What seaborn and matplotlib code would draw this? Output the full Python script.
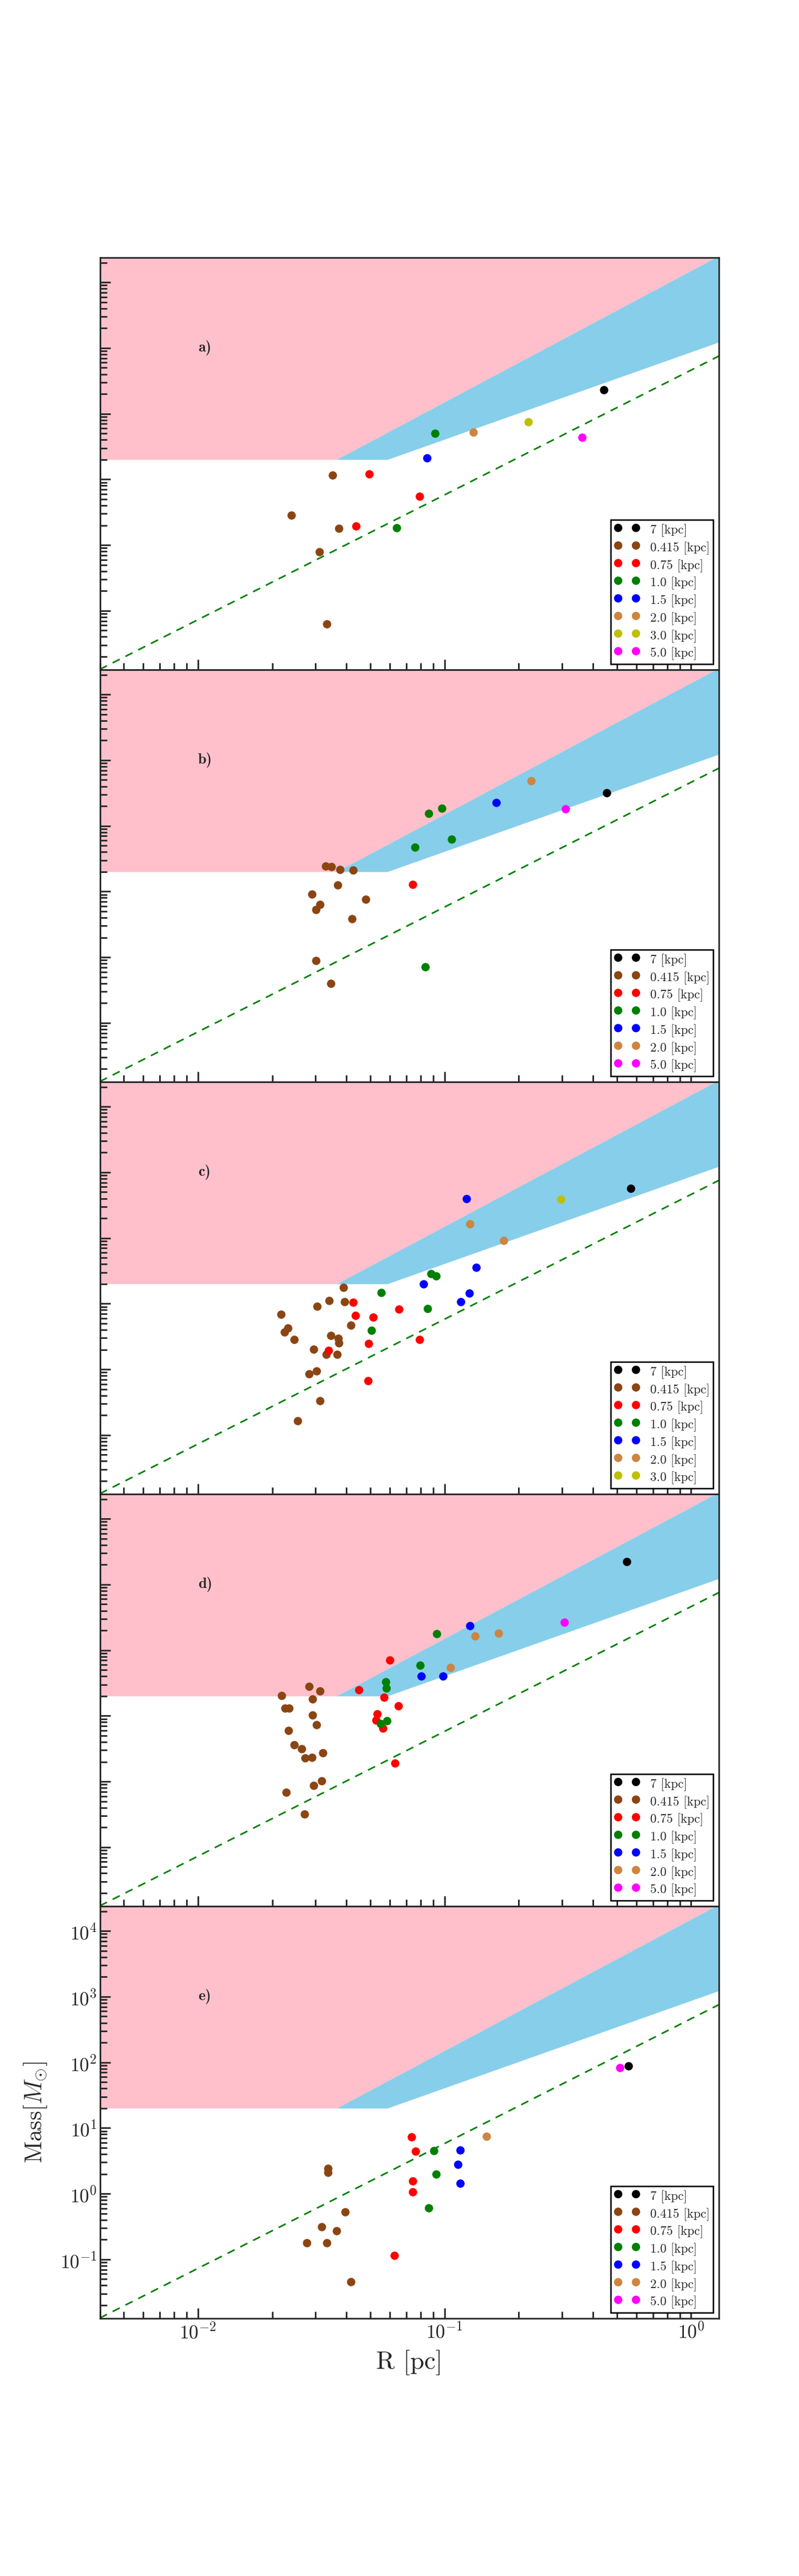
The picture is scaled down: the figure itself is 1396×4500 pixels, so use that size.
import matplotlib
matplotlib.use("Agg")
import matplotlib.pyplot as plt
from matplotlib.ticker import LogLocator, NullFormatter
import numpy as np
import seaborn as sns

# distance groups (legend order) and their colours
groups = ["7", "0.415", "0.75", "1.0", "1.5", "2.0", "3.0", "5.0"]
group_colors = ["black", "#8B4513", "red", "green", "blue", "#CD853F", "#BFBF00", "magenta"]

# panel a
a_kpc = ["7", "0.415", "0.415", "0.415", "0.415", "0.415", "0.75", "0.75", "0.75",
         "1.0", "1.0", "1.5", "2.0", "3.0", "5.0"]
a_R = [0.444, 0.0351, 0.0239, 0.0372, 0.031, 0.0334, 0.0496, 0.079, 0.0438,
       0.0914, 0.064, 0.0848, 0.131, 0.219, 0.361]
a_M = [231, 11.7, 2.83, 1.78, 0.794, 0.0624, 12.0, 5.56, 1.93,
       50.5, 1.82, 21.0, 52.5, 75.7, 43.6]

# panel b
b_kpc = ["7"] + ["0.415"] * 12 + ["0.75"] + ["1.0"] * 5 + ["1.5", "2.0", "5.0"]
b_R = [0.455,
       0.033, 0.0348, 0.0377, 0.0426, 0.0368, 0.029, 0.048, 0.0312, 0.0301, 0.0422, 0.0301, 0.0345,
       0.0743,
       0.0977, 0.0865, 0.107, 0.076, 0.0835,
       0.162, 0.225, 0.310]
b_M = [318,
       24.5, 24.0, 21.6, 21.2, 12.6, 9.08, 7.56, 6.3, 5.25, 3.85, 0.883, 0.401,
       12.9,
       184, 153, 63, 47.6, 0.707,
       225, 481, 180]

# panel c
c_kpc = ["7"] + ["0.415"] * 19 + ["0.75"] * 8 + ["1.0"] * 5 + ["1.5"] * 5 + ["2.0"] * 2 + ["3.0"]
c_R = [0.569,
       0.0388, 0.0341, 0.0394, 0.0305, 0.0217, 0.0417, 0.0232, 0.0224, 0.0345, 0.0371,
       0.0246, 0.0372, 0.0295, 0.0332, 0.0366, 0.0303, 0.0282, 0.0313, 0.0254,
       0.0426, 0.0655, 0.0435, 0.0515, 0.0793, 0.0493, 0.0339, 0.049,
       0.0882, 0.0924, 0.0553, 0.0855, 0.0506,
       0.1226, 0.1346, 0.0822, 0.126, 0.1166,
       0.1265, 0.174,
       0.296]
c_M = [572,
       17.8, 11.1, 10.7, 9.08, 6.93, 4.67, 4.24, 3.67, 3.27, 2.94,
       2.83, 2.5, 2.04, 1.68, 1.70, 0.944, 0.857, 0.330, 0.165,
       10.5, 8.17, 6.61, 6.24, 2.83, 2.45, 1.96, 0.667,
       28.8, 26.2, 14.7, 8.41, 3.89,
       393, 36, 20, 14.4, 10.6,
       163, 90.8,
       389]

# panel d
d_kpc = ["7"] + ["0.415"] * 18 + ["0.75"] * 8 + ["1.0"] * 6 + ["1.5"] * 3 + ["2.0"] * 3 + ["5.0"]
d_R = [0.548,
       0.0282, 0.0313, 0.0218, 0.0292, 0.0225, 0.0234, 0.0292, 0.0303, 0.0233, 0.0246,
       0.0264, 0.0321, 0.0272, 0.029, 0.0317, 0.0295, 0.0228, 0.027,
       0.0601, 0.0449, 0.057, 0.065, 0.0532, 0.0528, 0.0562, 0.063,
       0.0929, 0.0796, 0.0577, 0.0582, 0.0585, 0.0551,
       0.127, 0.0806, 0.0984,
       0.166, 0.133, 0.1056,
       0.306]
d_M = [2225,
       28, 24, 20.2, 18, 13.2, 13.2, 10.3, 7.28, 5.94, 3.6,
       3.12, 2.72, 2.29, 2.31, 1.03, 0.873, 0.687, 0.318,
       70, 24.7, 19.1, 14.2, 10.8, 8.65, 6.48, 1.91,
       178, 58.9, 33, 26.5, 8.49, 7.56,
       236, 40.4, 40.4,
       182, 165, 54.5,
       265]

# panel e
e_kpc = ["7"] + ["0.415"] * 8 + ["0.75"] * 5 + ["1.0"] * 3 + ["1.5"] * 3 + ["2.0", "5.0"]
e_R = [0.557,
       0.0336, 0.0336, 0.0396, 0.0317, 0.0365, 0.0276, 0.0334, 0.0417,
       0.0733, 0.0762, 0.0743, 0.0743, 0.0625,
       0.0903, 0.0924, 0.0865,
       0.116, 0.1134, 0.116,
       0.148, 0.515]
e_M = [88.5,
       2.43, 2.09, 0.532, 0.31, 0.269, 0.179, 0.179, 0.0457,
       7.34, 4.4, 1.56, 1.06, 0.115,
       4.48, 1.98, 0.609,
       4.64, 2.78, 1.43,
       7.48, 82.4]

panels = [("a)", a_R, a_M, a_kpc), ("b)", b_R, b_M, b_kpc), ("c)", c_R, c_M, c_kpc),
          ("d)", d_R, d_M, d_kpc), ("e)", e_R, e_M, e_kpc)]

# reference relations
m_floor = 20.0            # minimum mass [Msun]
sigma_crit = np.pi * 4790  # 1 g cm^-2 column  -> M = pi R^2 Sigma
kp_norm, kp_slope = 870.0, 1.33      # Kauffmann & Pillai
larson_norm, larson_slope = 460.0, 1.9

xlim = (0.004, 1.3)
ylim = (0.0126, 2.38e4)

sns.set_style("ticks")
plt.rcParams["font.family"] = ["cmr10", "DejaVu Serif"]
plt.rcParams["mathtext.fontset"] = "cm"
plt.rcParams["axes.formatter.use_mathtext"] = True
plt.rcParams["axes.unicode_minus"] = False
plt.rcParams["axes.axisbelow"] = False

fig, axs = plt.subplots(5, 1, figsize=(13.96, 45), dpi=100, sharex=True, sharey=True)
fig.subplots_adjust(left=0.125, right=0.9, top=0.9, bottom=0.1, hspace=0)

R = np.logspace(np.log10(xlim[0]), np.log10(xlim[1]), 600)
upper = np.maximum(sigma_crit * R ** 2, m_floor)
lower = np.maximum(kp_norm * R ** kp_slope, m_floor)

for ax, (tag, rr, mm, kk) in zip(axs, panels):
    ax.set_xscale("log")
    ax.set_yscale("log")
    ax.set_axisbelow(False)
    ax.fill_between(R, upper, ylim[1], color="pink", lw=0, zorder=1)
    ax.fill_between(R, lower, upper, color="skyblue", lw=0, zorder=1)
    ax.plot(R, larson_norm * R ** larson_slope, color="green", ls="--",
            lw=2, dashes=(5, 4), zorder=2)

    for g, col in zip(groups, group_colors):
        xs = [r for r, k in zip(rr, kk) if k == g]
        ys = [m for m, k in zip(mm, kk) if k == g]
        if not xs:
            continue
        sns.scatterplot(x=xs, y=ys, color=col, s=110, linewidth=0, ax=ax,
                        label=g + " [kpc]", zorder=3)

    ax.text(0.01, 1000, tag, fontsize=19, family=["cmb10", "DejaVu Serif"],
            fontweight="bold", ha="left", va="center")

    leg = ax.legend(loc="lower right", scatterpoints=2, scatteryoffsets=[0.5],
                    fontsize=16, fancybox=False, framealpha=1, edgecolor="black",
                    borderaxespad=0.45, borderpad=0.3, labelspacing=0.33,
                    handleheight=1.0, handlelength=2.0, handletextpad=0.8)
    leg.get_frame().set_linewidth(1.8)

    ax.set_xlim(*xlim)
    ax.set_ylim(*ylim)
    ax.xaxis.set_major_locator(LogLocator(base=10, numticks=100))
    ax.xaxis.set_minor_locator(LogLocator(base=10, subs=np.arange(2, 10), numticks=100))
    ax.yaxis.set_major_locator(LogLocator(base=10, numticks=100))
    ax.yaxis.set_minor_locator(LogLocator(base=10, subs=np.arange(2, 10), numticks=100))
    ax.xaxis.set_minor_formatter(NullFormatter())
    ax.yaxis.set_minor_formatter(NullFormatter())
    ax.tick_params(which="both", direction="in", top=False, right=False, labelsize=24)
    ax.tick_params(which="major", length=13, width=2)
    ax.tick_params(which="minor", length=8.5, width=2)
    for sp in ax.spines.values():
        sp.set_linewidth(2)
        sp.set_zorder(5)
    ax.set_xlabel("")
    ax.set_ylabel("")

for ax in axs[:-1]:
    ax.tick_params(labelleft=False, labelbottom=False)

axs[-1].set_xlabel("R [pc]", fontsize=32, labelpad=10)
axs[-1].set_ylabel(r"Mass[$M_{\odot}$]", fontsize=30, labelpad=14)

fig.savefig("out.png", dpi=100)
